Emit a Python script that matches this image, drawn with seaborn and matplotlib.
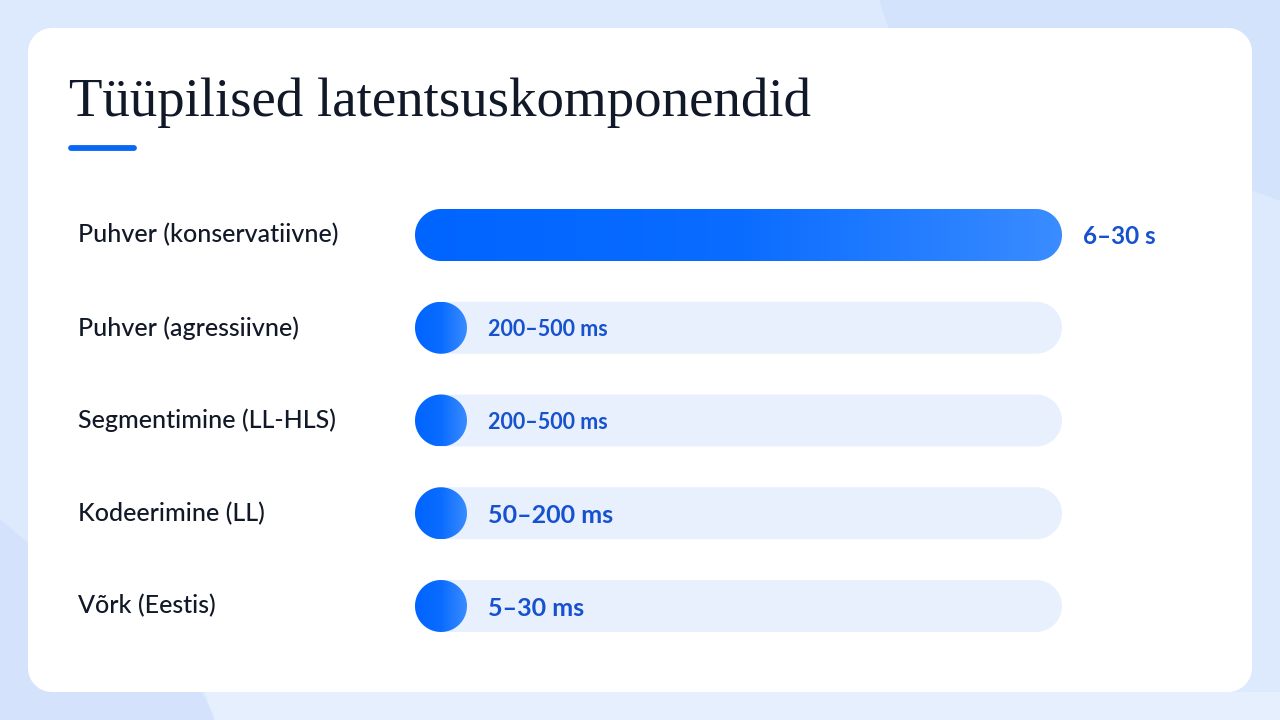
import numpy as np
import pandas as pd
import seaborn as sns
import matplotlib.pyplot as plt
from matplotlib.patches import Polygon
from matplotlib.transforms import blended_transform_factory

# Data
categories = ['Puhver (konservatiivne)', 'Puhver (agressiivne)', 'Segmentimine (LL-HLS)',
              'Kodeerimine (LL)', 'Võrk (Eestis)']
upper_ms = [30000, 500, 500, 200, 30]
value_labels = ['6–30 s', '200–500 ms', '200–500 ms', '50–200 ms', '5–30 ms']
label_sizes = [17.5, 15.5, 15.5, 18, 18]
title = 'Tüüpilised latentsuskomponendid'
scale_max = 30000

W, H = 1280, 720
BAR_PX = 52
TRACK_X0, TRACK_X1 = 415, 1062
ROW0, ROW_STEP = 235, 92.75


def rounded_rect(x0, y0, x1, y1, r):
    # outline with true circular corners, pixel coords
    t = np.linspace(0, np.pi / 2, 20)
    pts = []
    for cx, cy, a0 in [(x1 - r, y1 - r, 0), (x0 + r, y1 - r, np.pi / 2),
                       (x0 + r, y0 + r, np.pi), (x1 - r, y0 + r, 1.5 * np.pi)]:
        pts.append(np.column_stack([cx + r * np.cos(a0 + t), cy + r * np.sin(a0 + t)]))
    return np.vstack(pts)


sns.set_theme(style='white')
plt.rcParams['font.family'] = ['Lato', 'DejaVu Sans']

fig = plt.figure(figsize=(W / 100, H / 100), dpi=100)

# Background + card (pixel coordinates)
bg = fig.add_axes([0, 0, 1, 1])
bg.set_xlim(0, W)
bg.set_ylim(H, 0)
bg.axis('off')
bg.add_patch(Polygon([[0, 0], [W, 0], [W, H], [0, H]], color='#dde9fc', zorder=0))
bg.add_patch(Polygon([[880, 0], [W, 0], [W, 200], [900, 60]], color='#d3e3fc', zorder=1))
bg.add_patch(Polygon([[0, 520], [200, 690], [215, H], [0, H]], color='#d4e3fb', zorder=1))
bg.add_patch(Polygon([[205, 692], [W, 692], [W, H], [215, H]], color='#e6effd', zorder=1))
bg.add_patch(Polygon(rounded_rect(28, 28, 1252, 692, 24), facecolor='white',
                     edgecolor='none', zorder=2))
bg.text(69, 116, title, fontsize=39.5, color='#111827', va='baseline', ha='left',
        family=['Liberation Serif', 'DejaVu Serif'], zorder=3)
bg.plot([71, 134], [147.5, 147.5], color='#0a66f5', lw=4.2, solid_capstyle='round', zorder=3)

# Main axes over the track area
n = len(categories)
top_px = ROW0 - ROW_STEP / 2
bot_px = ROW0 + ROW_STEP * (n - 0.5)
ax = fig.add_axes([TRACK_X0 / W, 1 - bot_px / H, (TRACK_X1 - TRACK_X0) / W, (bot_px - top_px) / H])
ax.patch.set_alpha(0)

x_per_px = scale_max / (TRACK_X1 - TRACK_X0)
bar_h = BAR_PX / ROW_STEP
min_w = BAR_PX * x_per_px   # small values still show a full circle
shown = [max(v, min_w) for v in upper_ms]

df = pd.DataFrame({'cat': categories, 'track': [scale_max] * n, 'value': shown})
sns.barplot(data=df, x='track', y='cat', orient='h', color='#e8f0fe', width=bar_h, ax=ax)
sns.barplot(data=df, x='value', y='cat', orient='h', color='#0066ff', width=bar_h, ax=ax)
ax.set_xlim(0, scale_max)
ax.set_ylim(n - 0.5, -0.5)
ax.axis('off')

# turn the seaborn rectangles into pills
grad = np.linspace(0, 1, 256).reshape(1, -1)
cmap = sns.blend_palette(['#0064ff', '#0a6cff', '#3a8cff'], as_cmap=True)
to_bg = ax.transData + bg.transData.inverted()
rects = list(ax.patches)
for i, r in enumerate(rects):
    x, y, w, h = r.get_x(), r.get_y(), r.get_width(), r.get_height()
    (px0, py0), (px1, py1) = to_bg.transform([(x, y), (x + w, y + h)])
    ph = abs(py1 - py0)
    is_track = i < n
    p = Polygon(rounded_rect(min(px0, px1), min(py0, py1), max(px0, px1), max(py0, py1), ph / 2),
                closed=True, transform=bg.transData, clip_on=False,
                facecolor='#e8f0fe' if is_track else 'none', edgecolor='none',
                zorder=1 if is_track else 2)
    ax.add_patch(p)
    r.remove()
    if not is_track:
        im = ax.imshow(grad, extent=(x, x + w, y + h, y), aspect='auto', cmap=cmap,
                       interpolation='bicubic', zorder=3)
        im.set_clip_path(p)
ax.set_xlim(0, scale_max)
ax.set_ylim(n - 0.5, -0.5)

lab_tr = blended_transform_factory(fig.transFigure, ax.transData)
for i, cat in enumerate(categories):
    ax.text(78 / W, i, cat, transform=lab_tr, fontsize=18, color='#111827',
            va='center', ha='left', fontweight='medium')
    end = scale_max if shown[i] >= scale_max else shown[i]
    ax.annotate(value_labels[i], (end, i), xytext=(21, -2), textcoords='offset pixels',
                fontsize=label_sizes[i], fontweight='bold', color='#1652d0',
                va='center', ha='left', zorder=5)

fig.savefig('out.png', dpi=100)
